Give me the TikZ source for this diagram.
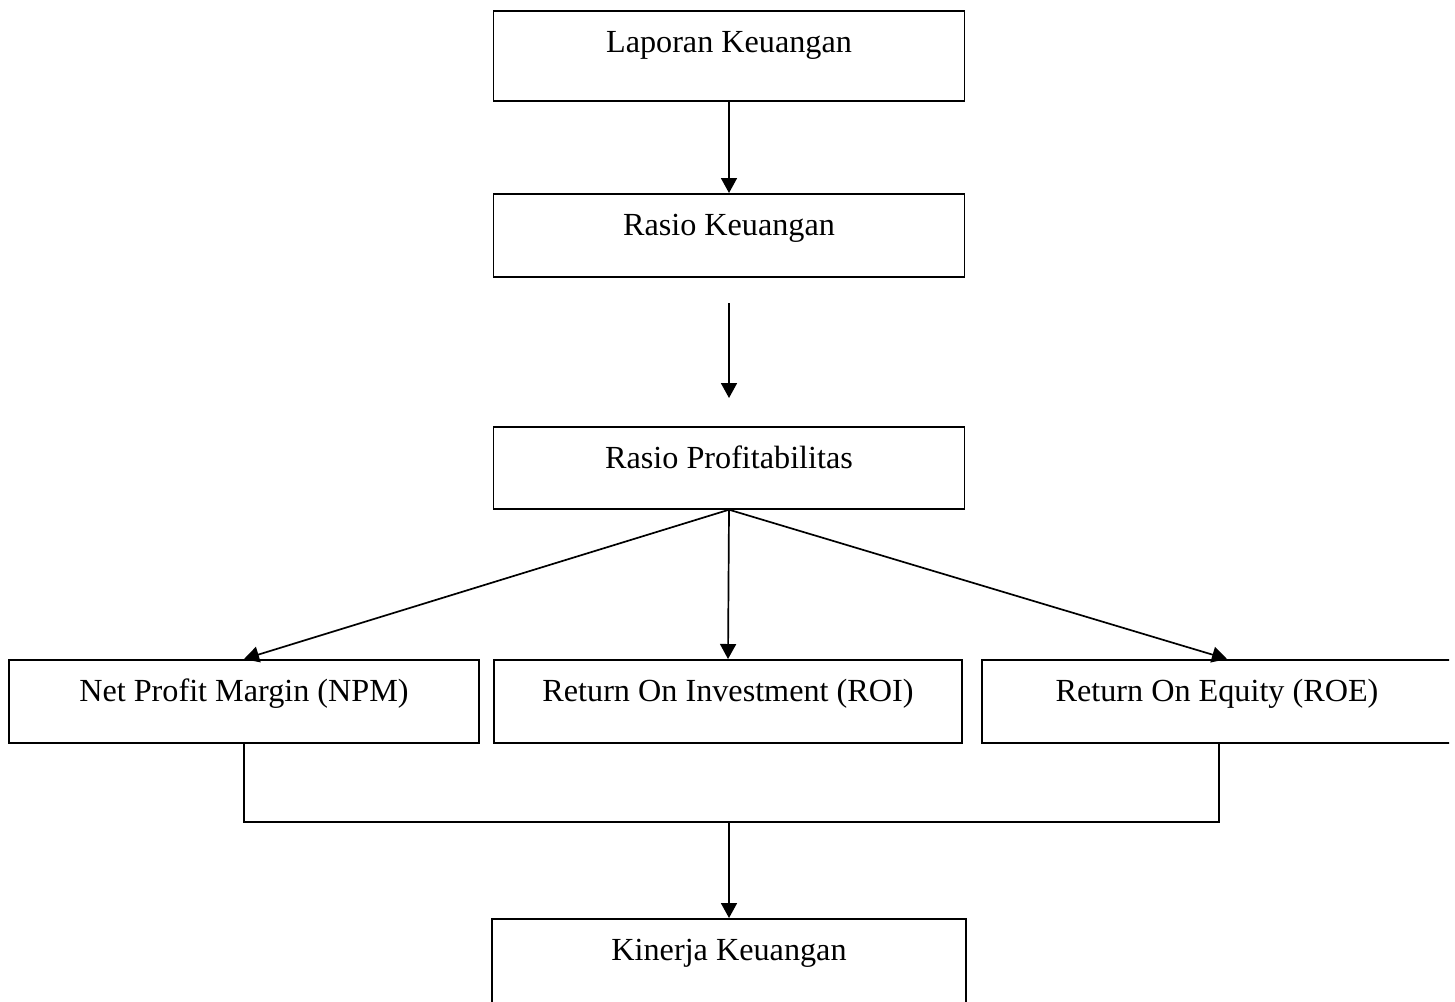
\documentclass[tikz,border=0pt]{standalone}
\usepackage{fontspec}
\setmainfont{Liberation Serif}
\usepackage{tikz}
\usetikzlibrary{positioning, arrows.meta}

\begin{document}
\begin{tikzpicture}[x=1pt, y=-1pt, line width=1.7pt,
		>={Triangle[length=15pt,width=16pt]},
		kotak/.style={draw, anchor=north, inner sep=0pt, text height=42pt, text depth=41pt,
			font=\fontsize{32.2}{36}\selectfont}]
			\useasboundingbox (0,0) rectangle (1455,1001);
			\clip (0,0) rectangle (1449,1001);
			\draw[color=black]
			node[kotak,minimum width=471pt,text depth=48pt] (laporan) at (729, 10){Laporan Keuangan}
			node[kotak,minimum width=471pt] (rasio) at (729, 193){Rasio Keuangan}
			node[kotak,minimum width=471pt,text depth=40pt] (profit) at (729, 426){Rasio Profitabilitas}
			node[kotak,minimum width=470pt] (npm) at (244, 659){Net Profit Margin (NPM)}
			node[kotak,minimum width=468pt] (roi) at (728, 659){Return On Investment (ROI)}
			node[kotak,minimum width=470pt] (roe) at (1217, 659){Return On Equity (ROE)}
			node[kotak,minimum width=474pt,text depth=80pt] (kinerja) at (729, 918){Kinerja Keuangan};
			\coordinate (lepas_atas) at (729, 303);
			\coordinate (lepas_bawah) at (729, 398);
			\coordinate (gabung) at (729, 822);
			\draw [->] (laporan) -- (rasio);
			\draw [->] (lepas_atas) -- (lepas_bawah);
			\draw [->] (profit.south) -- (npm.north);
				\draw [->] (profit.south) -- (roi.north);
				\draw [->] (profit.south) -- ([xshift=10pt]roe.north);
			\draw (npm.south) |- (gabung) -| ([xshift=2pt]roe.south);
			\draw [->] (gabung) -- (kinerja.north);
		\end{tikzpicture}
\end{document}
